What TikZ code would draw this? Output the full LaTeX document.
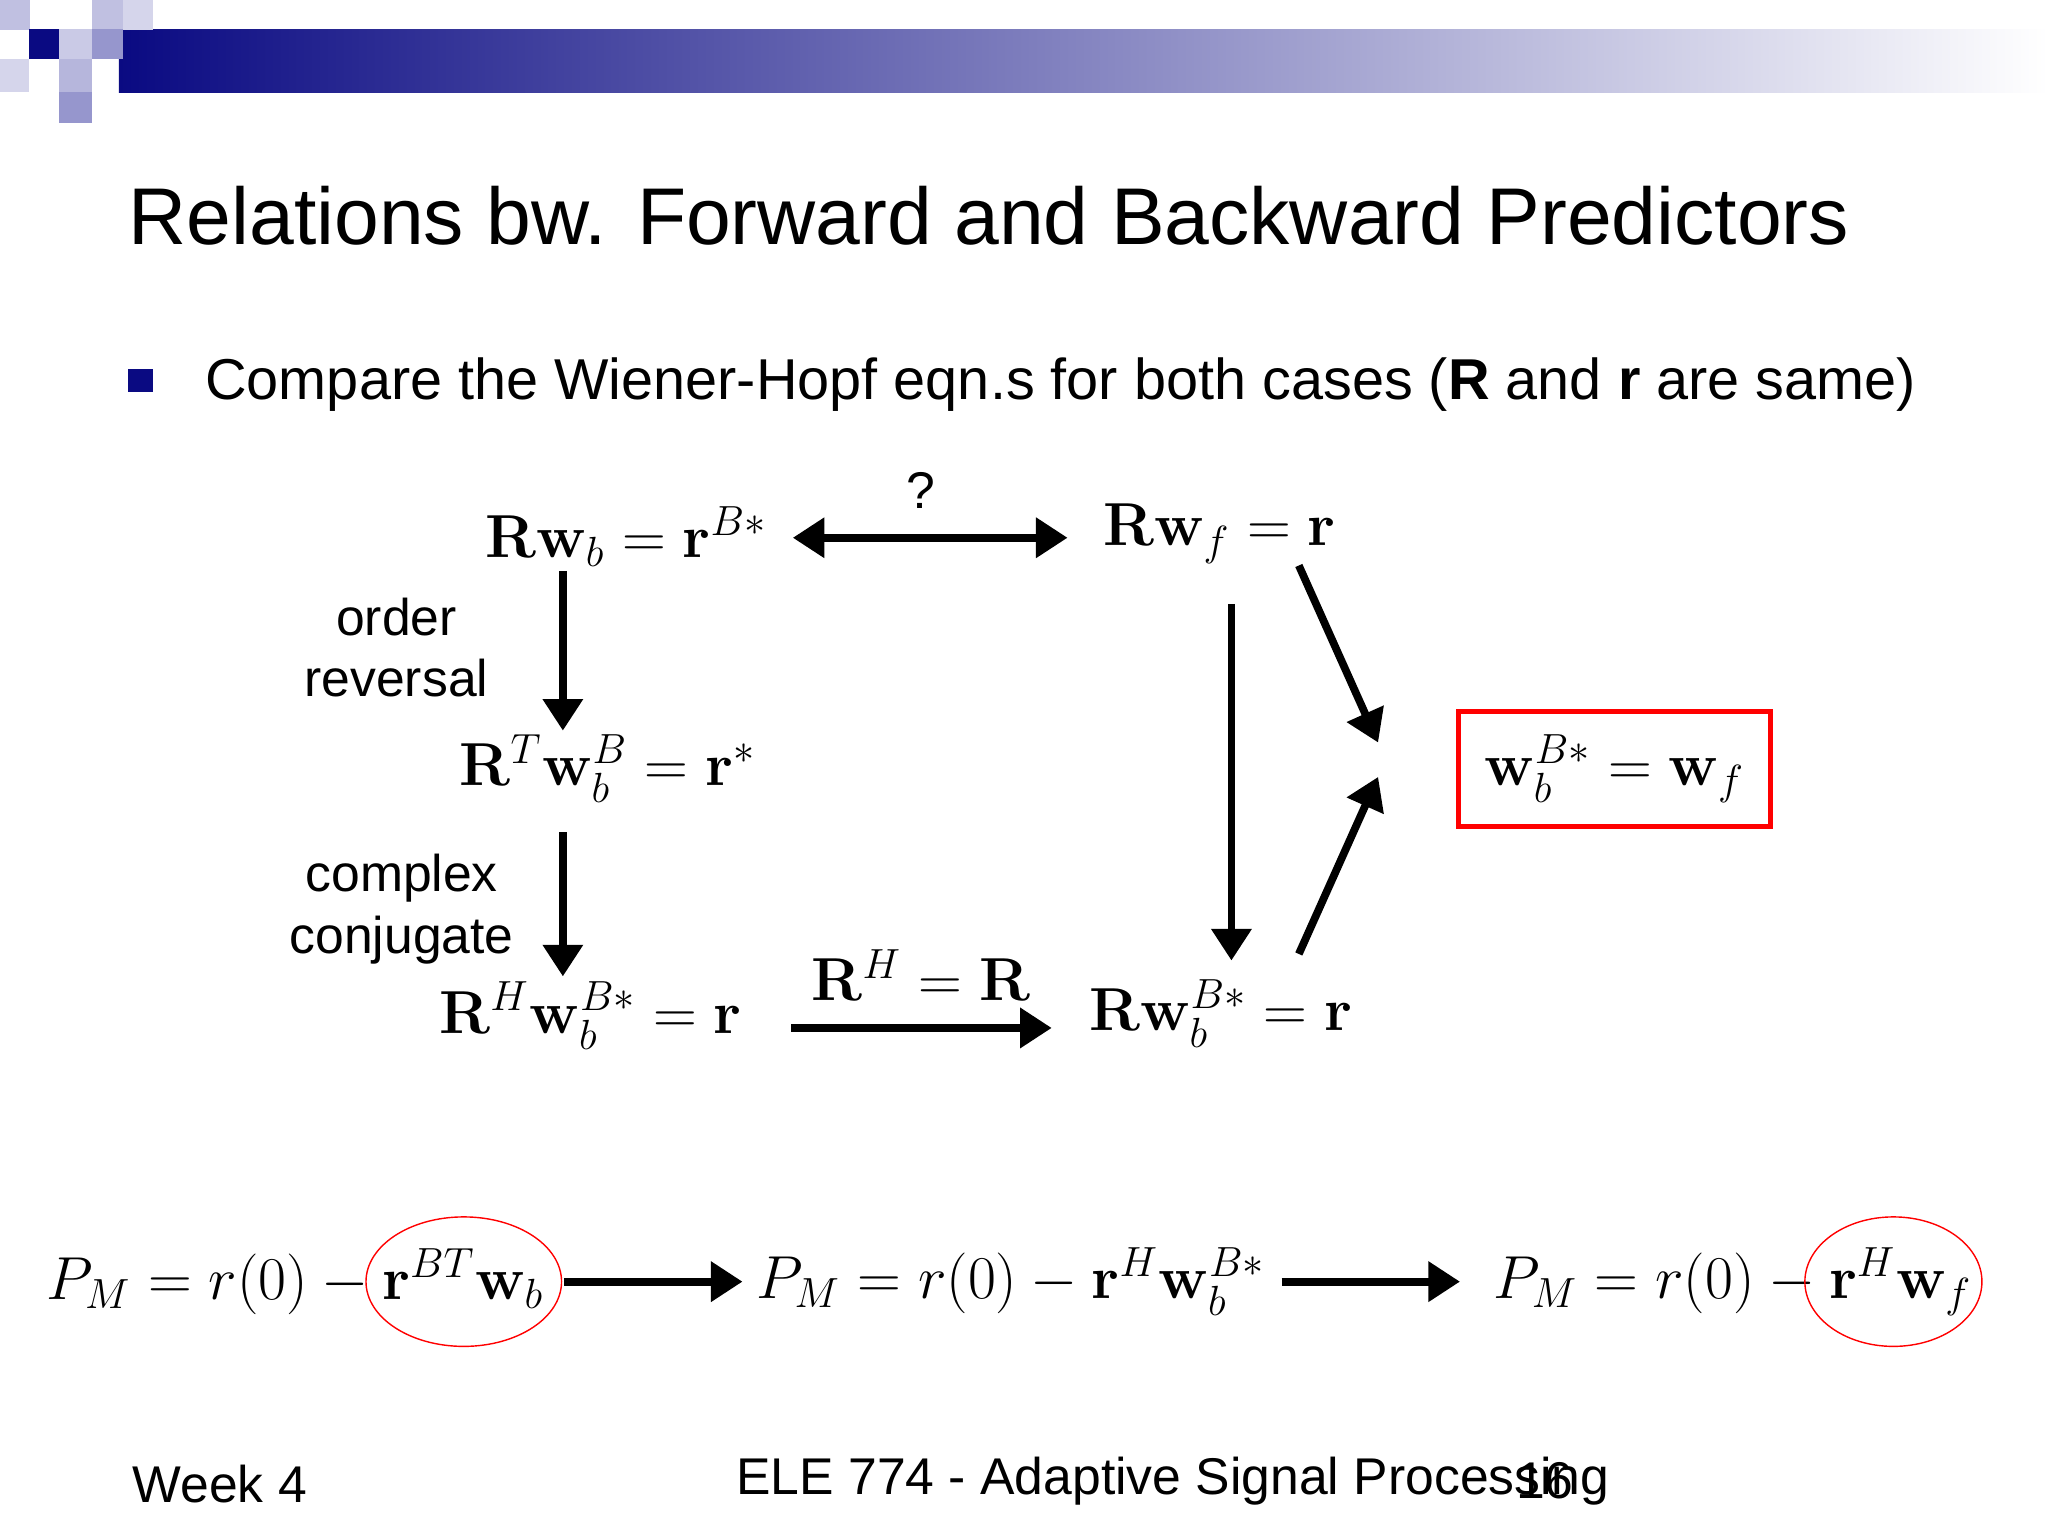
\documentclass[tikz,border=0pt]{standalone}
\usepackage{amsmath}
\usepackage[no-math]{fontspec}
\setmainfont{Liberation Sans}
\usetikzlibrary{arrows.meta}
\definecolor{navy}{RGB}{10,10,130}
\definecolor{lav}{RGB}{150,150,205}
\begin{document}
\begin{tikzpicture}[x=0.01321cm,y=-0.01321cm,
  tip/.tip={Triangle[length=9pt,width=11pt]},
  arr/.style={-tip,line width=2.2pt},
  math/.style={font=\fontsize{17.5}{20}\selectfont},
  bmath/.style={font=\fontsize{17}{20}\selectfont},
  lbl/.style={font=\fontsize{14.7}{17.5}\selectfont, align=center}]
\useasboundingbox (0,0) rectangle (1550,1162);
\fill[white] (0,0) rectangle (1550,1162);
% header
\shade[left color=navy, right color=white] (90,22) rectangle (1550,70);
\fill[lav!60] (0,0) rectangle (23,23);
\fill[lav!60] (70,0) rectangle (93,23);
\fill[lav!40] (93,0) rectangle (116,23);
\fill[navy] (22,22) rectangle (45,45);
\fill[lav!50] (45,22) rectangle (70,45);
\fill[lav] (70,22) rectangle (93,45);
\fill[lav!70] (45,45) rectangle (70,70);
\fill[lav!40] (0,45) rectangle (22,70);
\fill[lav] (45,70) rectangle (70,93);
% title
\node[anchor=west,font=\fontsize{22.9}{27}\selectfont] (title) at (88,163) {Relations bw. Forward and Backward Predictors};
\fill[navy] (97,279) rectangle (116,297);
\node[anchor=west,font=\fontsize{16.4}{19}\selectfont] (bul) at (146,291) {Compare the Wiener-Hopf eqn.s for both cases (\textbf{R} and \textbf{r} are same)};
% diagram nodes
\node[math] (a) at (474,406) {$\mathbf{R}\mathbf{w}_b=\mathbf{r}^{B*}$};
\node[math] (b) at (923,404) {$\mathbf{R}\mathbf{w}_f=\mathbf{r}$};
\node[math] (c) at (460,582) {$\mathbf{R}^T\mathbf{w}_b^B=\mathbf{r}^{*}$};
\node[math] (d) at (447,769) {$\mathbf{R}^H\mathbf{w}_b^{B*}=\mathbf{r}$};
\node[math] (e) at (924,767) {$\mathbf{R}\mathbf{w}_b^{B*}=\mathbf{r}$};
\node[math,draw=red,line width=1.6pt,minimum width=3.12cm,minimum height=1.15cm] (f) at (1222,582) {$\mathbf{w}_b^{B*}=\mathbf{w}_f$};
\node[lbl] (q) at (697,371) {?};
\node[lbl] (l1) at (300,490) {order\\reversal};
\node[lbl] (l2) at (304,688) {complex\\conjugate};
\node[math] (l3) at (697,738) {$\mathbf{R}^H=\mathbf{R}$};
% arrows
\coordinate (a1) at (600,407); \coordinate (a2) at (808,407);
\draw[tip-tip,line width=2.2pt] (a1) -- (a2);
\coordinate (v1) at (426,432); \coordinate (v2) at (426,553);
\draw[arr] (v1) -- (v2);
\coordinate (v3) at (426,630); \coordinate (v4) at (426,739);
\draw[arr] (v3) -- (v4);
\coordinate (v5) at (932,457); \coordinate (v6) at (932,727);
\draw[arr] (v5) -- (v6);
\coordinate (h1) at (599,778); \coordinate (h2) at (796,778);
\draw[arr] (h1) -- (h2);
\coordinate (d1) at (983,428); \coordinate (d2) at (1043,562);
\draw[arr] (d1) -- (d2);
\coordinate (d3) at (983,722); \coordinate (d4) at (1043,588);
\draw[arr] (d3) -- (d4);
% bottom row
\node[bmath,anchor=west] (p1) at (26,970) {$P_M=r(0)-\mathbf{r}^{BT}\mathbf{w}_b$};
\node[bmath,anchor=west] (p2) at (563,970) {$P_M=r(0)-\mathbf{r}^{H}\mathbf{w}_b^{B*}$};
\node[bmath,anchor=west] (p3) at (1121,970) {$P_M=r(0)-\mathbf{r}^{H}\mathbf{w}_f$};
\draw[red] (351,970) ellipse (74 and 49);
\draw[red] (1433,970) ellipse (67 and 49);
\coordinate (b1) at (427,970); \coordinate (b2) at (562,970);
\draw[arr] (b1) -- (b2);
\coordinate (b3) at (970,970); \coordinate (b4) at (1105,970);
\draw[arr] (b3) -- (b4);
% footer
\node[anchor=west,font=\fontsize{14.7}{17}\selectfont] (w4) at (91,1123) {Week 4};
\node[anchor=west,font=\fontsize{14.7}{17}\selectfont] (ele) at (548,1121) {ELE 774 - Adaptive Signal Processing};
\node[anchor=west,font=\fontsize{14.7}{17}\selectfont] (pg) at (1138,1121) {16};
\end{tikzpicture}
\end{document}
